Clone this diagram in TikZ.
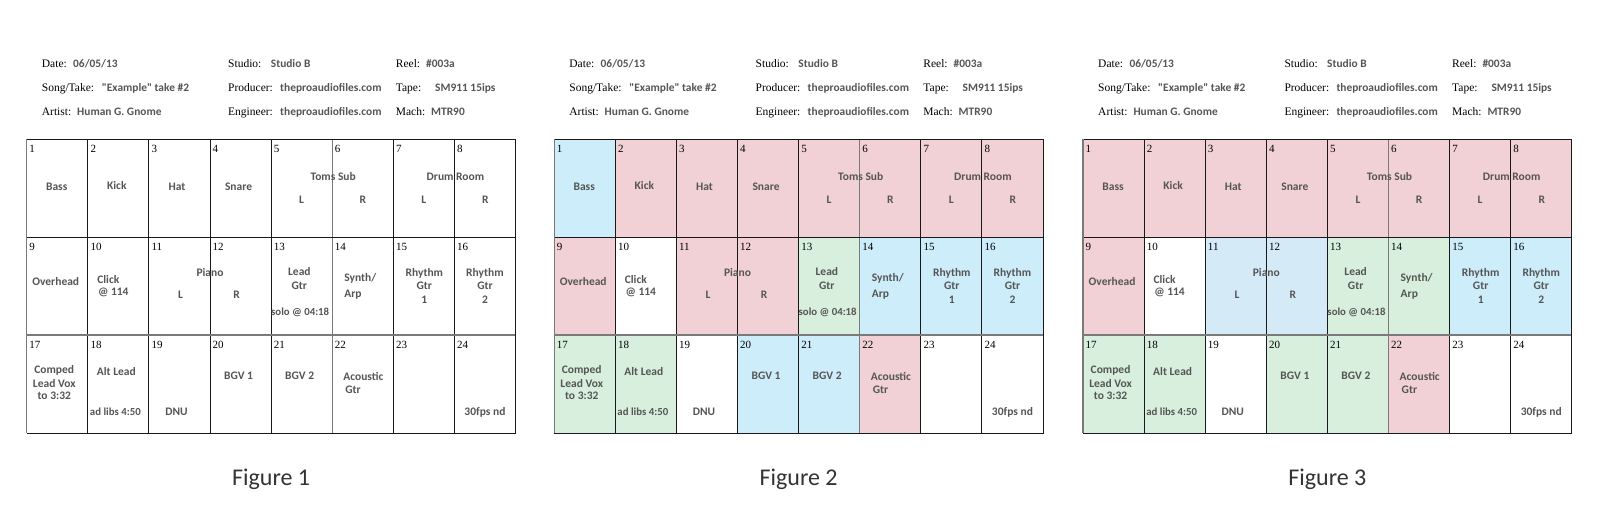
\documentclass[tikz,border=0pt]{standalone}
\usepackage{fontspec}
\setmainfont{Liberation Serif}
\newfontfamily\hand{Carlito}
\newfontfamily\capfont{Carlito}
\definecolor{ink}{HTML}{555555}
\definecolor{pk}{HTML}{F2D1D6}
\definecolor{bl}{HTML}{CDEDFA}
\definecolor{blb}{HTML}{D5EAF7}
\definecolor{gr}{HTML}{D7EFDC}
\definecolor{wh}{HTML}{FFFFFF}
\definecolor{lineg}{HTML}{7A7A7A}
\def\X{26.7}\def\W{61.1}\def\T{139.3}\def\H{97.9}
\tikzset{
  num/.style={anchor=base west,inner sep=0pt,font=\fontsize{11}{11}\selectfont},
  lab/.style={anchor=base,inner sep=0pt,text=ink,font=\hand\bfseries\fontsize{11.5}{11.5}\selectfont},
  labw/.style={lab,anchor=base west},
  hdr/.style={anchor=base west,inner sep=0pt,font=\fontsize{11.5}{11.5}\selectfont},
  hval/.style={anchor=base west,inner sep=0pt,text=ink,font=\hand\bfseries\fontsize{11.4}{11.4}\selectfont},
  gridl/.style={draw=black!90,line width=1pt},
  gridg/.style={draw=lineg,line width=1.4pt},
  capt/.style={anchor=base,inner sep=0pt,text=black!80,font=\capfont\fontsize{24}{24}\selectfont}
}
\newcommand\sheet[4]{%
\begin{scope}[xshift=#2pt]
  % cell fills
  \foreach \c [count=\i from 0] in {#3} {
    \pgfmathtruncatemacro\rr{int(\i/8)}
    \pgfmathtruncatemacro\kk{mod(\i,8)}
    \fill[fill=\c] ({\X+\kk*\W},{\T+\rr*\H}) rectangle ++(\W,\H);
  }
  % grid
  \foreach \k in {1,2,3,4,6,7}
    \draw[gridl] ({\X+\k*\W},\T) -- ++(0,{3*\H});
  \draw[gridg] ({\X+5*\W},\T) -- ++(0,{3*\H});
  \draw[gridl] (\X,{\T+\H}) -- ++({8*\W},0);
  \draw[gridg] (\X,{\T+2*\H}) -- ++({8*\W},0);
  \draw[gridl] (\X,\T) -- ++({8*\W},0) -- ++(0,{3*\H}) -- ++({-8*\W},0);
  \draw[gridg] (\X,\T) -- ++(0,{3*\H});
  % track numbers
  \foreach \i in {1,...,24} {
    \pgfmathtruncatemacro\rr{int((\i-1)/8)}
    \pgfmathtruncatemacro\kk{mod(\i-1,8)}
    \node[num] (#1n\i) at ({\X+\kk*\W+2.5},{\T+\rr*\H+13}) {\i};
  }
  % header
  \node[hdr] (#1hdate) at (41.7,67.5) {Date:};
  \node[hval] (#1vdate) at (73,67.5) {06/05/13};
  \node[hdr] (#1hsong) at (41.7,91.5) {Song/Take:};
  \node[hval] (#1vsong) at (101.7,91.5) {"Example" take \#2};
  \node[hdr] (#1hart) at (41.7,115.5) {Artist:};
  \node[hval] (#1vart) at (77,115.5) {Human G. Gnome};
  \node[hdr] (#1hstu) at (228,67.5) {Studio:};
  \node[hval] (#1vstu) at (270.7,67.5) {Studio B};
  \node[hdr] (#1hpro) at (228,91.5) {Producer:};
  \node[hval] (#1vpro) at (280,91.5) {theproaudiofiles.com};
  \node[hdr] (#1heng) at (228,115.5) {Engineer:};
  \node[hval] (#1veng) at (280,115.5) {theproaudiofiles.com};
  \node[hdr] (#1hreel) at (395.7,67.5) {Reel:};
  \node[hval] (#1vreel) at (426,67.5) {\#003a};
  \node[hdr] (#1htape) at (395.7,91.5) {Tape:};
  \node[hval] (#1vtape) at (435,91.5) {SM911 15ips};
  \node[hdr] (#1hmach) at (395.7,115.5) {Mach:};
  \node[hval] (#1vmach) at (431,115.5) {MTR90};
  % row 1
  \node[lab] (#1bass) at ({\X+0.5*\W-0.5},{\T+51}) {Bass};
  \node[lab] (#1kick) at ({\X+1.5*\W-1.5},{\T+50}) {Kick};
  \node[lab] (#1hat) at ({\X+2.5*\W-2.5},{\T+51}) {Hat};
  \node[lab] (#1snare) at ({\X+3.5*\W-2},{\T+51}) {Snare};
  \node[lab] (#1toms) at ({\X+5*\W+1},{\T+41.5}) {Toms Sub};
  \node[lab] (#1tomsl) at ({\X+4.5*\W},{\T+64}) {L};
  \node[lab] (#1tomsr) at ({\X+5.5*\W},{\T+64}) {R};
  \node[lab] (#1room) at ({\X+7*\W+1},{\T+41.5}) {Drum Room};
  \node[lab] (#1rooml) at ({\X+6.5*\W},{\T+64}) {L};
  \node[lab] (#1roomr) at ({\X+7.5*\W+0.5},{\T+64}) {R};
  % row 2
  \node[lab] (#1oh) at ({\X+0.5*\W-1.5},{\T+\H+48}) {Overhead};
  \node[lab] (#1click) at (108.3,{\T+\H+46}) {Click};
  \node[lab] (#1bpm) at (113.3,{\T+\H+58.5}) {@ 114};
  \node[lab] (#1piano) at ({\X+3*\W},{\T+\H+39.5}) {Piano};
  \node[lab] (#1pianol) at ({\X+2.5*\W+1.2},{\T+\H+61}) {L};
  \node[lab] (#1pianor) at ({\X+3.5*\W-4},{\T+\H+61}) {R};
  \node[lab] (#1lead) at ({\X+4.5*\W-2.3},{\T+\H+38.5}) {Lead};
  \node[lab] (#1leadg) at ({\X+4.5*\W-2.3},{\T+\H+52}) {Gtr};
  \node[lab,font=\hand\bfseries\fontsize{10.8}{10.8}\selectfont] (#1solo) at ({\X+4.5*\W-1.5},{\T+\H+78.5}) {solo @ 04:18};
  \node[labw] (#1synth) at ({\X+5*\W+12},{\T+\H+44.5}) {Synth/};
  \node[labw] (#1arp) at ({\X+5*\W+12},{\T+\H+60}) {Arp};
  \node[lab] (#1rga) at ({\X+6.5*\W+0.5},{\T+\H+39}) {Rhythm};
  \node[lab] (#1rgb) at ({\X+6.5*\W+0.5},{\T+\H+52}) {Gtr};
  \node[lab] (#1rgc) at ({\X+6.5*\W+0.5},{\T+\H+66}) {1};
  \node[lab] (#1rha) at ({\X+7.5*\W},{\T+\H+39}) {Rhythm};
  \node[lab] (#1rhb) at ({\X+7.5*\W},{\T+\H+52}) {Gtr};
  \node[lab] (#1rhc) at ({\X+7.5*\W},{\T+\H+66}) {2};
  % row 3
  \node[lab] (#1compa) at ({\X+0.5*\W-3},{\T+2*\H+38}) {Comped};
  \node[lab] (#1compb) at ({\X+0.5*\W-3},{\T+2*\H+52}) {Lead Vox};
  \node[lab] (#1compc) at ({\X+0.5*\W-3},{\T+2*\H+64.6}) {to 3:32};
  \node[lab] (#1alt) at ({\X+1.5*\W-2},{\T+2*\H+40.6}) {Alt Lead};
  \node[lab,font=\hand\bfseries\fontsize{10.8}{10.8}\selectfont] (#1adlib) at ({\X+1.5*\W-3},{\T+2*\H+80.6}) {ad libs 4:50};
  \node[lab] (#1dnu) at ({\X+2.5*\W-3},{\T+2*\H+80.6}) {DNU};
  \node[lab] (#1bgva) at ({\X+3.5*\W-2},{\T+2*\H+44.6}) {BGV 1};
  \node[lab] (#1bgvb) at ({\X+4.5*\W-2},{\T+2*\H+44.6}) {BGV 2};
  \node[labw] (#1aca) at ({\X+5*\W+11},{\T+2*\H+45.6}) {Acoustic};
  \node[labw] (#1acb) at ({\X+5*\W+13},{\T+2*\H+58.2}) {Gtr};
  \node[lab] (#1fps) at ({\X+7.5*\W},{\T+2*\H+80.6}) {30fps nd};
  % caption
  \node[capt] (#1cap) at ({\X+4*\W},485) {#4};
\end{scope}}
\begin{document}
\begin{tikzpicture}[x=1pt,y=-1pt]
\useasboundingbox[fill=white] (0,0) rectangle (1600,520);
\sheet{a}{0}{wh,wh,wh,wh,wh,wh,wh,wh,wh,wh,wh,wh,wh,wh,wh,wh,wh,wh,wh,wh,wh,wh,wh,wh}{Figure 1}
\sheet{b}{527.5}{bl,pk,pk,pk,pk,pk,pk,pk,pk,wh,pk,pk,gr,bl,bl,bl,gr,gr,wh,bl,bl,pk,wh,wh}{Figure 2}
\sheet{c}{1056.3}{pk,pk,pk,pk,pk,pk,pk,pk,pk,wh,blb,blb,gr,gr,bl,bl,gr,gr,wh,gr,gr,pk,wh,wh}{Figure 3}
\end{tikzpicture}
\end{document}
